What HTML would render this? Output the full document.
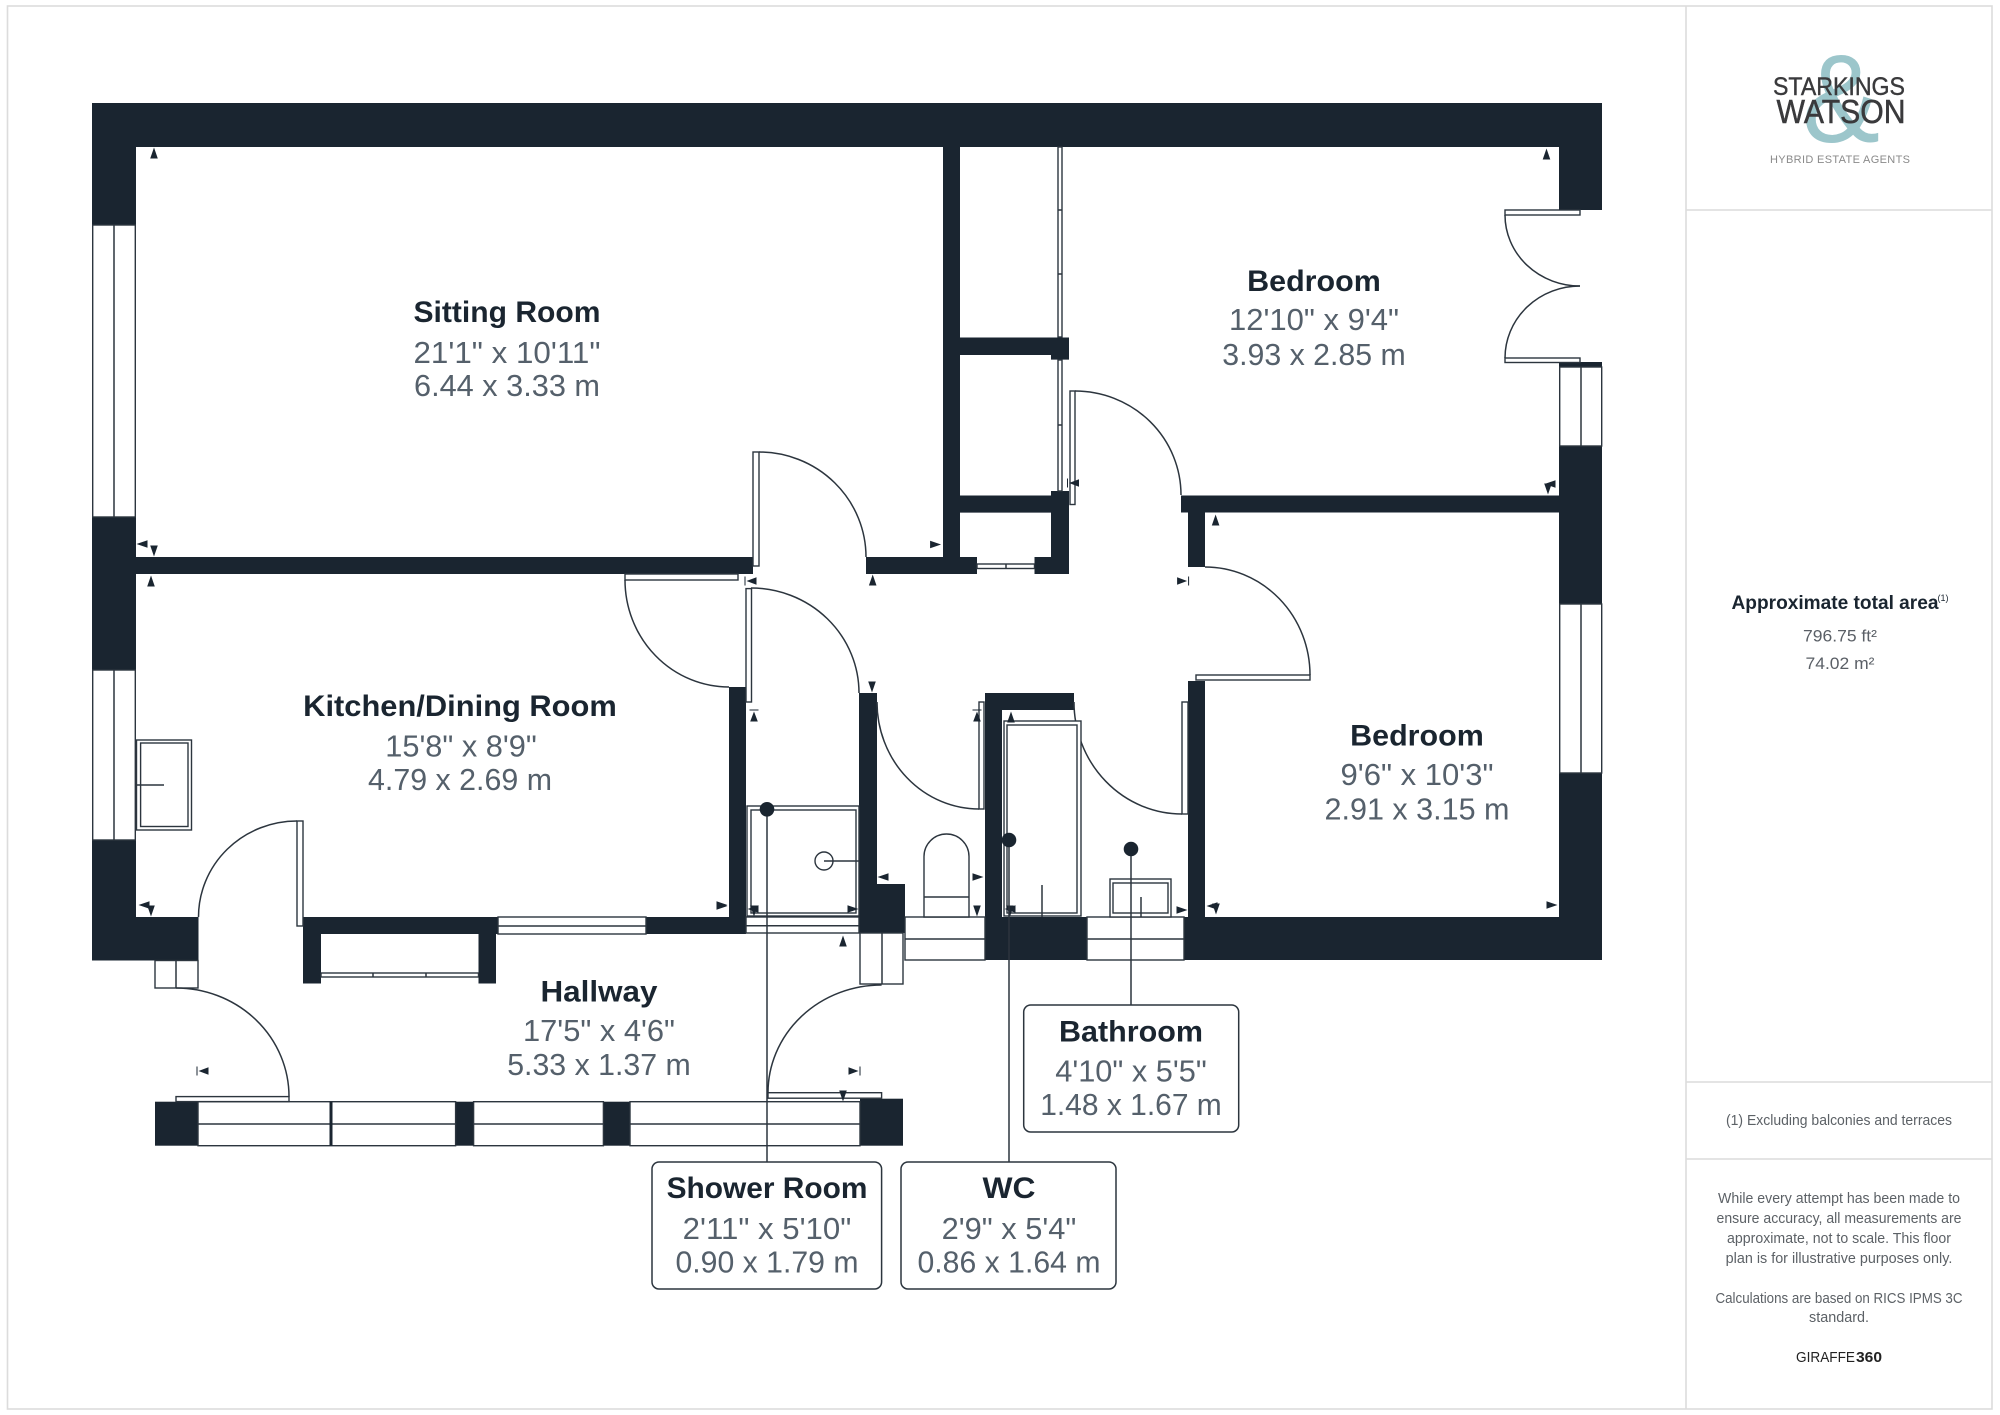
<!DOCTYPE html>
<html><head><meta charset="utf-8"><style>
html,body{margin:0;padding:0;background:#fff;width:2000px;height:1415px;overflow:hidden}
svg{display:block}
text{font-family:"Liberation Sans",sans-serif;text-anchor:middle}
.t{font-weight:bold;font-size:30px;fill:#1a2530}
.d{font-size:31px;fill:#55606b}
.w{fill:#1a2530}
.l{fill:#fff;stroke:#2c353e;stroke-width:1.4}
.n{fill:none;stroke:#2c353e;stroke-width:1.5}
.f{fill:none;stroke:#dcdcdc;stroke-width:1.6}
.p{font-size:14.5px;fill:#5c6166}
</style></head><body>
<svg width="2000" height="1415" viewBox="0 0 2000 1415" xmlns="http://www.w3.org/2000/svg">
<defs>
<path id="au" class="w" d="M0 -5.500L3.800 5.500H-3.800Z"/>
<path id="ad" class="w" d="M0 5.500L3.800 -5.500H-3.800Z"/>
<path id="al" class="w" d="M-5.500 0L5.500 -3.800V3.800Z"/>
<path id="ar" class="w" d="M5.500 0L-5.500 -3.800V3.800Z"/>
<path id="bl" class="w" d="M-5.500 -4.500V4.500H-6.500V-4.500ZM-4.500 0L5.500 -3.800V3.800Z"/>
<path id="br" class="w" d="M5.500 -4.500V4.500H6.500V-4.500ZM4.500 0L-5.500 -3.800V3.800Z"/>
<path id="bu" class="w" d="M-4.500 -6.500H4.500V-5.500H-4.500ZM0 -4.500L3.800 5.500H-3.800Z"/>
</defs>

<!-- frame -->
<rect class="f" x="7.500" y="6" width="1984.500" height="1403"/>
<path class="f" d="M1686 6V1409M1686 210H1992M1686 1082H1992M1686 1159H1992"/>

<!-- outer and inner walls -->
<path class="w" d="M92 103H1602V210H1559V147H136V917H198.500V960.500H92Z"/>
<rect class="w" x="136" y="557" width="617" height="17"/>
<rect class="w" x="866" y="557" width="111" height="17"/>
<rect class="w" x="943" y="147" width="17" height="427"/>
<path class="w" d="M960 337.500H1069V359.600H1051V355H960Z"/>
<path class="w" d="M960 495.500H1051V491H1069V574H1034.500V557H1051V512.600H960Z"/>
<rect class="w" x="1181" y="495.500" width="378" height="17"/>
<rect class="w" x="1188" y="512" width="17" height="55"/>
<rect class="w" x="1188" y="681" width="17" height="240"/>
<rect class="w" x="1559" y="362" width="43" height="598"/>
<rect class="w" x="1184" y="917" width="418" height="43"/>
<rect class="w" x="729" y="687" width="17" height="247"/>
<rect class="w" x="303" y="917" width="443" height="17"/>
<rect class="w" x="303" y="930" width="18" height="53.500"/>
<rect class="w" x="478.500" y="930" width="17.500" height="53.500"/>
<path class="w" d="M859 693H877V884H905V933H859Z"/>
<path class="w" d="M985 693H1074V710H1002V917H1087V960H985Z"/>
<rect class="w" x="155" y="1101.700" width="43" height="44"/>
<rect class="w" x="455.600" y="1101.700" width="18" height="44"/>
<rect class="w" x="603.400" y="1101.700" width="26.600" height="44"/>
<rect class="w" x="860" y="1098.700" width="43" height="47"/>

<!-- windows -->
<rect class="l" x="92.700" y="225" width="42.600" height="292"/><path class="n" d="M114 225V517"/>
<rect class="l" x="92.700" y="670" width="42.600" height="170"/><path class="n" d="M114 670V840"/>
<rect class="l" x="1559.700" y="367" width="42" height="79"/><path class="n" d="M1581 367V446"/>
<rect class="l" x="1559.700" y="604" width="42" height="169"/><path class="n" d="M1581 604V773"/>
<rect class="l" x="155" y="960.500" width="43" height="27.500"/><path class="n" d="M176 960.500V988"/>
<rect class="l" x="498" y="917" width="148" height="17"/><path class="n" d="M498 926H646"/>
<rect class="l" x="977" y="564" width="57.500" height="4.500"/><path class="n" d="M1006 564V568"/>
<rect class="l" x="746" y="917" width="113" height="16"/><path class="n" d="M746 925.700H859"/>
<rect class="l" x="905" y="917" width="80" height="43"/><path class="n" d="M905 939H985"/>
<rect class="l" x="1087" y="917" width="97" height="43"/><path class="n" d="M1087 939H1184"/>
<rect class="l" x="860" y="933" width="43" height="51"/><path class="n" d="M882 933V984"/>
<rect class="l" x="198" y="1101.700" width="257.600" height="44"/>
<path class="n" d="M198 1124H455.600"/>
<rect class="l" x="473.600" y="1101.700" width="129.800" height="44"/><path class="n" d="M473.600 1124H603.400"/>
<rect class="l" x="630" y="1101.700" width="230" height="44"/><path class="n" d="M630 1124H860"/>
<path d="M331 1101.700V1145.600" stroke="#1a2530" stroke-width="3"/>
<rect class="l" x="321" y="973" width="157.500" height="4"/><path class="n" d="M373 973V977M426 973V977"/>
<!-- wardrobe doors -->
<rect class="l" x="1058" y="147" width="4" height="190"/><rect class="l" x="1058" y="360" width="4" height="131"/>
<path class="n" d="M1058 210H1062M1058 274H1062M1058 425H1062"/>

<!-- door leaves -->
<rect class="l" x="753" y="452" width="6" height="114"/>
<rect class="l" x="1070" y="391" width="5" height="113.500"/>
<rect class="l" x="625" y="574" width="113" height="6"/>
<rect class="l" x="746" y="588.600" width="5.500" height="113.400"/>
<rect class="l" x="297" y="821" width="6" height="105"/>
<rect class="l" x="176" y="1096.600" width="113" height="5"/>
<rect class="l" x="768" y="1092.700" width="113.600" height="5.500"/>
<rect class="l" x="1196" y="675" width="114" height="5"/>
<rect class="l" x="979" y="702" width="5" height="107"/>
<rect class="l" x="1182" y="702" width="6" height="112"/>
<rect class="l" x="1505" y="210" width="75" height="5"/>
<rect class="l" x="1505" y="358" width="75" height="4.500"/>
<!-- door arcs -->
<path class="n" d="M759 452A107 105 0 0 1 866 557"/>
<path class="n" d="M1075 391A106 104 0 0 1 1181 495"/>
<path class="n" d="M1205 567A105 108 0 0 1 1310 675"/>
<path class="n" d="M751 588A108 105 0 0 1 859 693"/>
<path class="n" d="M625 580A104 107 0 0 0 729 687"/>
<path class="n" d="M297 821A98.500 96 0 0 0 198.500 917"/>
<path class="n" d="M176 988A113 108.600 0 0 1 289 1096.600"/>
<path class="n" d="M881.600 985A113.600 107.700 0 0 0 768 1092.700"/>
<path class="n" d="M877 702A102 107 0 0 0 979 809"/>
<path class="n" d="M1074 702A108 112 0 0 0 1182 814"/>
<path class="n" d="M1505 215A75 71 0 0 0 1580 286"/>
<path class="n" d="M1580 286A75 72 0 0 0 1505 358"/>

<!-- fixtures -->
<rect class="l" x="136.500" y="740" width="55" height="90"/>
<rect class="l" x="140.600" y="743" width="47.400" height="83.500"/>
<path class="n" d="M136 785H164"/>
<rect class="l" x="747" y="806" width="112" height="110"/>
<rect class="l" x="751" y="810" width="105" height="103"/>
<circle class="l" cx="824" cy="861" r="9"/><path class="n" d="M824 861H859"/>
<path class="l" d="M924 917V856.500A22.500 22.500 0 0 1 969 856.500V917ZM924 897H969"/>
<rect class="l" x="1004" y="721" width="77" height="195"/>
<rect class="l" x="1007" y="725" width="70" height="188"/>
<path class="n" d="M1042 885V917"/>
<rect class="l" x="1110" y="879" width="61" height="38"/>
<rect class="l" x="1113" y="883" width="55" height="30"/>
<path class="n" d="M1141 897V917"/>

<!-- arrows -->
<use href="#au" x="154" y="153"/><use href="#al" x="142" y="544"/><use href="#ad" x="154" y="551"/>
<use href="#au" x="151" y="581"/><use href="#au" x="1546.500" y="154"/><use href="#al" x="1550" y="484"/>
<use href="#ad" x="1548" y="489"/><use href="#ar" x="935.600" y="544.500"/><use href="#bl" x="1073.500" y="483"/>
<use href="#au" x="1215.600" y="520"/><use href="#au" x="872.700" y="580"/><use href="#bl" x="751" y="581"/>
<use href="#br" x="1182.600" y="581"/><use href="#ad" x="872" y="687"/><use href="#bu" x="754" y="716"/>
<use href="#bu" x="977" y="716"/><use href="#au" x="1011" y="717"/><use href="#al" x="883" y="877"/>
<use href="#ar" x="978" y="877"/><use href="#ar" x="1182" y="910"/><use href="#ad" x="977" y="911"/>
<use href="#al" x="753" y="909"/><use href="#ad" x="754" y="911"/><use href="#ar" x="853" y="909"/>
<use href="#ar" x="722" y="906"/><use href="#al" x="1010" y="909"/><use href="#ad" x="1010" y="911"/>
<use href="#al" x="1212" y="906"/><use href="#ad" x="1216" y="909"/><use href="#ar" x="1552" y="905"/>
<use href="#au" x="843" y="941"/><use href="#al" x="144" y="905"/><use href="#ad" x="151" y="911"/>
<use href="#ar" x="722" y="905"/><use href="#bl" x="203" y="1071"/><use href="#br" x="854" y="1071"/>
<use href="#ad" x="843" y="1096"/>

<!-- leaders and callouts -->
<path class="n" d="M767 809V1162M1009 840V1162M1131 849V1005"/>
<circle class="w" cx="767" cy="809.300" r="7.300"/>
<circle class="w" cx="1009" cy="840" r="7.300"/>
<circle class="w" cx="1131" cy="849" r="7.300"/>
<rect x="1023.700" y="1005" width="215" height="127" rx="7" fill="#fff" stroke="#2c353e" stroke-width="1.500"/>
<rect x="652" y="1162" width="229.600" height="127" rx="7" fill="#fff" stroke="#2c353e" stroke-width="1.500"/>
<rect x="901" y="1162" width="215" height="127" rx="7" fill="#fff" stroke="#2c353e" stroke-width="1.500"/>

<!-- room labels -->
<text class="t" x="507" y="322" textLength="187" lengthAdjust="spacingAndGlyphs">Sitting Room</text>
<text class="d" x="507" y="363" textLength="187" lengthAdjust="spacingAndGlyphs">21'1" x 10'11"</text>
<text class="d" x="507" y="396" textLength="186" lengthAdjust="spacingAndGlyphs">6.44 x 3.33 m</text>

<text class="t" x="1314" y="291" textLength="133.600" lengthAdjust="spacingAndGlyphs">Bedroom</text>
<text class="d" x="1314" y="330" textLength="170" lengthAdjust="spacingAndGlyphs">12'10" x 9'4"</text>
<text class="d" x="1314" y="365" textLength="183.500" lengthAdjust="spacingAndGlyphs">3.93 x 2.85 m</text>

<text class="t" x="460" y="716" textLength="313.600" lengthAdjust="spacingAndGlyphs">Kitchen/Dining Room</text>
<text class="d" x="461" y="756.500" textLength="151.500" lengthAdjust="spacingAndGlyphs">15'8" x 8'9"</text>
<text class="d" x="460" y="790" textLength="184" lengthAdjust="spacingAndGlyphs">4.79 x 2.69 m</text>

<text class="t" x="599" y="1001.700" textLength="117" lengthAdjust="spacingAndGlyphs">Hallway</text>
<text class="d" x="599" y="1041" textLength="152" lengthAdjust="spacingAndGlyphs">17'5" x 4'6"</text>
<text class="d" x="599" y="1075" textLength="183.600" lengthAdjust="spacingAndGlyphs">5.33 x 1.37 m</text>

<text class="t" x="1417" y="745.500" textLength="133.600" lengthAdjust="spacingAndGlyphs">Bedroom</text>
<text class="d" x="1417" y="785" textLength="153" lengthAdjust="spacingAndGlyphs">9'6" x 10'3"</text>
<text class="d" x="1417" y="819.500" textLength="185" lengthAdjust="spacingAndGlyphs">2.91 x 3.15 m</text>

<text class="t" x="1131" y="1041.700" textLength="144" lengthAdjust="spacingAndGlyphs">Bathroom</text>
<text class="d" x="1131" y="1081.700" textLength="151.500" lengthAdjust="spacingAndGlyphs">4'10" x 5'5"</text>
<text class="d" x="1131" y="1115" textLength="181.600" lengthAdjust="spacingAndGlyphs">1.48 x 1.67 m</text>

<text class="t" x="767" y="1198" textLength="200.800" lengthAdjust="spacingAndGlyphs">Shower Room</text>
<text class="d" x="767" y="1239" textLength="168.600" lengthAdjust="spacingAndGlyphs">2'11" x 5'10"</text>
<text class="d" x="767" y="1272.700" textLength="183" lengthAdjust="spacingAndGlyphs">0.90 x 1.79 m</text>

<text class="t" x="1009" y="1198" textLength="53" lengthAdjust="spacingAndGlyphs">WC</text>
<text class="d" x="1009" y="1239" textLength="134.700" lengthAdjust="spacingAndGlyphs">2'9" x 5'4"</text>
<text class="d" x="1009" y="1272.700" textLength="183" lengthAdjust="spacingAndGlyphs">0.86 x 1.64 m</text>

<!-- logo -->
<text x="1841" y="142" font-size="125" fill="#9cc6cb" textLength="78" lengthAdjust="spacingAndGlyphs">&amp;</text>
<text x="1839" y="95" font-size="25" fill="#3a3a3c" stroke="#3a3a3c" stroke-width=".4" textLength="132" lengthAdjust="spacingAndGlyphs">STARKINGS</text>
<text x="1841" y="123" font-size="33" fill="#3a3a3c" stroke="#3a3a3c" stroke-width=".5" textLength="129" lengthAdjust="spacingAndGlyphs">WATSON</text>
<text x="1840" y="163" font-size="11" fill="#8a8a8a" textLength="140">HYBRID ESTATE AGENTS</text>

<!-- sidebar -->
<text x="1835" y="609" font-size="19" font-weight="bold" fill="#1a2530" textLength="207" lengthAdjust="spacingAndGlyphs">Approximate total area</text>
<text x="1943" y="601" font-size="9" fill="#1a2530">(1)</text>
<text x="1840" y="641.700" font-size="17" fill="#5a5f66" textLength="74" lengthAdjust="spacingAndGlyphs">796.75 ft²</text>
<text x="1840" y="669" font-size="17" fill="#5a5f66" textLength="69" lengthAdjust="spacingAndGlyphs">74.02 m²</text>
<text class="p" x="1839" y="1125" textLength="226" lengthAdjust="spacingAndGlyphs">(1) Excluding balconies and terraces</text>
<text class="p" x="1839" y="1203" textLength="242" lengthAdjust="spacingAndGlyphs">While every attempt has been made to</text>
<text class="p" x="1839" y="1223" textLength="245" lengthAdjust="spacingAndGlyphs">ensure accuracy, all measurements are</text>
<text class="p" x="1839" y="1243" textLength="224" lengthAdjust="spacingAndGlyphs">approximate, not to scale. This floor</text>
<text class="p" x="1839" y="1263" textLength="226.700" lengthAdjust="spacingAndGlyphs">plan is for illustrative purposes only.</text>
<text class="p" x="1839" y="1303" textLength="247" lengthAdjust="spacingAndGlyphs">Calculations are based on RICS IPMS 3C</text>
<text class="p" x="1839" y="1322" textLength="60" lengthAdjust="spacingAndGlyphs">standard.</text>
<text x="1825.500" y="1362" font-size="15" fill="#222" textLength="59" lengthAdjust="spacingAndGlyphs">GIRAFFE</text>
<text x="1869" y="1362" font-size="15" font-weight="bold" fill="#222" textLength="26" lengthAdjust="spacingAndGlyphs">360</text>
</svg>
</body></html>
